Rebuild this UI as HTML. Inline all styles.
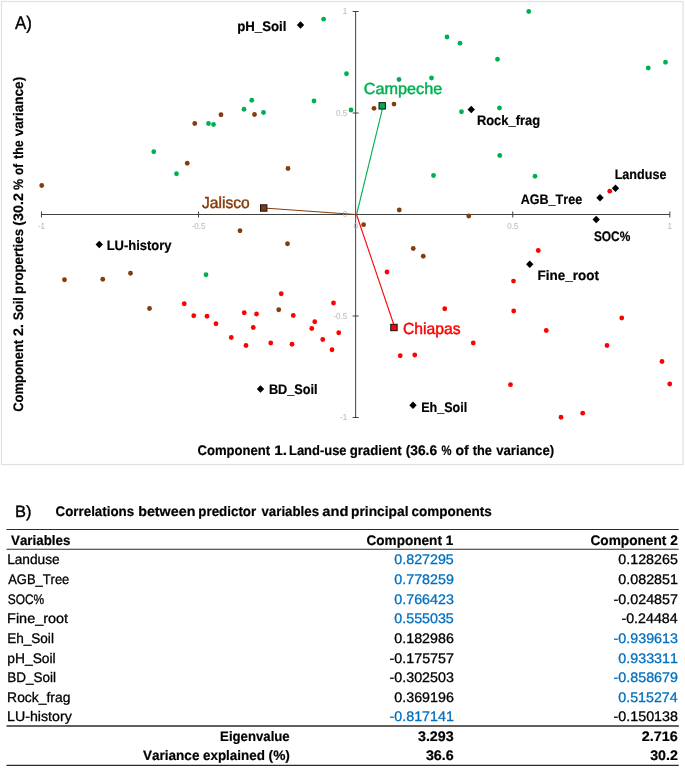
<!DOCTYPE html>
<html><head><meta charset="utf-8"><title>PCA biplot</title>
<style>
html,body{margin:0;padding:0;background:#fff}
svg{display:block;will-change:transform;font-family:"Liberation Sans",sans-serif;font-kerning:none;text-rendering:geometricPrecision}
</style></head><body>
<svg width="685" height="768" viewBox="0 0 685 768">
<rect width="685" height="768" fill="#fff"/>
<rect x="1.5" y="1.5" width="681.5" height="463" fill="#fff" stroke="#e0e0e0" stroke-width="1.2"/>
<g stroke="#404040" stroke-width="1" fill="none">
<line x1="41.45" y1="214.50" x2="669.85" y2="214.50"/>
<line x1="355.65" y1="11.50" x2="355.65" y2="417.50"/>
<line x1="41.45" y1="211.50" x2="41.45" y2="217.50"/>
<line x1="352.65" y1="417.50" x2="358.65" y2="417.50"/>
<line x1="198.55" y1="211.50" x2="198.55" y2="217.50"/>
<line x1="352.65" y1="316.00" x2="358.65" y2="316.00"/>
<line x1="512.75" y1="211.50" x2="512.75" y2="217.50"/>
<line x1="352.65" y1="113.00" x2="358.65" y2="113.00"/>
<line x1="669.85" y1="211.50" x2="669.85" y2="217.50"/>
<line x1="352.65" y1="11.50" x2="358.65" y2="11.50"/>
</g>
<text transform="translate(37.90 228.80) scale(0.9330 1)" font-size="8.60" stroke-width="0.10" stroke="#bfbfbf" fill="#bfbfbf">-1</text>
<text transform="translate(191.63 228.80) scale(0.9330 1)" font-size="8.60" stroke-width="0.10" stroke="#bfbfbf" fill="#bfbfbf">-0.5</text>
<text transform="translate(353.42 228.80) scale(0.9330 1)" font-size="8.60" stroke-width="0.10" stroke="#bfbfbf" fill="#bfbfbf">0</text>
<text transform="translate(507.18 228.80) scale(0.9330 1)" font-size="8.60" stroke-width="0.10" stroke="#bfbfbf" fill="#bfbfbf">0.5</text>
<text transform="translate(667.51 228.80) scale(0.9330 1)" font-size="8.60" stroke-width="0.10" stroke="#bfbfbf" fill="#bfbfbf">1</text>
<text transform="translate(342.83 14.40) scale(0.9330 1)" font-size="8.60" stroke-width="0.10" stroke="#bfbfbf" fill="#bfbfbf">1</text>
<text transform="translate(336.08 115.90) scale(0.9330 1)" font-size="8.60" stroke-width="0.10" stroke="#bfbfbf" fill="#bfbfbf">0.5</text>
<text transform="translate(342.75 217.40) scale(0.9330 1)" font-size="8.60" stroke-width="0.10" stroke="#bfbfbf" fill="#bfbfbf">0</text>
<text transform="translate(333.41 318.90) scale(0.9330 1)" font-size="8.60" stroke-width="0.10" stroke="#bfbfbf" fill="#bfbfbf">-0.5</text>
<text transform="translate(340.16 420.40) scale(0.9330 1)" font-size="8.60" stroke-width="0.10" stroke="#bfbfbf" fill="#bfbfbf">-1</text>
<line x1="356.60" y1="214.50" x2="383.15" y2="105.85" stroke="#00b050" stroke-width="1.1"/>
<line x1="355.65" y1="214.50" x2="263.70" y2="208.00" stroke="#843c0c" stroke-width="1.1"/>
<line x1="356.50" y1="214.50" x2="394.80" y2="327.50" stroke="#ff0000" stroke-width="1.1"/>
<g fill="#00b050"><circle cx="153.75" cy="151.75" r="2.40"/><circle cx="323.60" cy="19.20" r="2.40"/><circle cx="251.75" cy="100.25" r="2.40"/><circle cx="314.00" cy="101.00" r="2.40"/><circle cx="244.00" cy="109.25" r="2.40"/><circle cx="263.50" cy="112.50" r="2.40"/><circle cx="208.50" cy="123.50" r="2.40"/><circle cx="213.50" cy="124.50" r="2.40"/><circle cx="176.50" cy="173.75" r="2.40"/><circle cx="447.00" cy="37.00" r="2.40"/><circle cx="460.00" cy="43.25" r="2.40"/><circle cx="497.50" cy="59.25" r="2.40"/><circle cx="346.50" cy="73.75" r="2.40"/><circle cx="399.00" cy="79.50" r="2.40"/><circle cx="431.50" cy="78.00" r="2.40"/><circle cx="351.00" cy="110.00" r="2.40"/><circle cx="461.50" cy="111.75" r="2.40"/><circle cx="499.50" cy="108.00" r="2.40"/><circle cx="499.75" cy="155.50" r="2.40"/><circle cx="433.50" cy="175.50" r="2.40"/><circle cx="528.75" cy="11.50" r="2.40"/><circle cx="648.25" cy="68.00" r="2.40"/><circle cx="665.50" cy="62.25" r="2.40"/><circle cx="535.00" cy="176.25" r="2.40"/><circle cx="206.00" cy="274.75" r="2.40"/></g>
<g fill="#843c0c"><circle cx="41.75" cy="185.50" r="2.40"/><circle cx="254.50" cy="114.50" r="2.40"/><circle cx="221.00" cy="114.75" r="2.40"/><circle cx="194.75" cy="123.50" r="2.40"/><circle cx="187.25" cy="163.25" r="2.40"/><circle cx="288.00" cy="168.50" r="2.40"/><circle cx="374.00" cy="108.30" r="2.40"/><circle cx="394.00" cy="104.10" r="2.40"/><circle cx="64.50" cy="279.75" r="2.40"/><circle cx="102.75" cy="279.25" r="2.40"/><circle cx="130.50" cy="273.25" r="2.40"/><circle cx="149.50" cy="308.50" r="2.40"/><circle cx="240.00" cy="230.75" r="2.40"/><circle cx="287.50" cy="243.75" r="2.40"/><circle cx="278.75" cy="309.75" r="2.40"/><circle cx="399.25" cy="210.00" r="2.40"/><circle cx="468.75" cy="216.00" r="2.40"/><circle cx="363.60" cy="224.70" r="2.40"/><circle cx="413.25" cy="248.50" r="2.40"/><circle cx="423.25" cy="256.25" r="2.40"/></g>
<g fill="#ff0000"><circle cx="184.25" cy="303.75" r="2.40"/><circle cx="193.75" cy="315.75" r="2.40"/><circle cx="207.00" cy="316.25" r="2.40"/><circle cx="216.00" cy="323.75" r="2.40"/><circle cx="231.25" cy="337.50" r="2.40"/><circle cx="244.25" cy="312.75" r="2.40"/><circle cx="256.50" cy="314.00" r="2.40"/><circle cx="253.25" cy="327.50" r="2.40"/><circle cx="246.00" cy="345.50" r="2.40"/><circle cx="270.75" cy="343.00" r="2.40"/><circle cx="281.25" cy="293.75" r="2.40"/><circle cx="293.25" cy="315.50" r="2.40"/><circle cx="292.00" cy="344.25" r="2.40"/><circle cx="314.75" cy="321.75" r="2.40"/><circle cx="311.75" cy="328.50" r="2.40"/><circle cx="322.75" cy="339.50" r="2.40"/><circle cx="332.00" cy="349.75" r="2.40"/><circle cx="333.50" cy="303.00" r="2.40"/><circle cx="338.75" cy="332.75" r="2.40"/><circle cx="387.00" cy="272.00" r="2.40"/><circle cx="444.75" cy="308.75" r="2.40"/><circle cx="473.25" cy="343.00" r="2.40"/><circle cx="400.25" cy="355.75" r="2.40"/><circle cx="414.75" cy="355.00" r="2.40"/><circle cx="513.50" cy="281.10" r="2.40"/><circle cx="513.70" cy="311.00" r="2.40"/><circle cx="510.50" cy="384.70" r="2.40"/><circle cx="538.25" cy="250.50" r="2.40"/><circle cx="546.25" cy="330.50" r="2.40"/><circle cx="621.75" cy="318.00" r="2.40"/><circle cx="607.00" cy="345.50" r="2.40"/><circle cx="662.00" cy="361.50" r="2.40"/><circle cx="669.75" cy="384.00" r="2.40"/><circle cx="609.80" cy="191.20" r="2.40"/><circle cx="561.00" cy="417.25" r="2.40"/><circle cx="582.70" cy="413.20" r="2.40"/></g>
<rect x="379.00" y="102.65" width="6.4" height="6.4" fill="#00b050" stroke="#111" stroke-width="1"/>
<rect x="260.50" y="204.80" width="6.4" height="6.4" fill="#843c0c" stroke="#111" stroke-width="1"/>
<rect x="390.75" y="324.30" width="6.4" height="6.4" fill="#ff0000" stroke="#111" stroke-width="1"/>
<g fill="#000"><rect x="297.88" y="22.38" width="5.23" height="5.23" transform="rotate(45 300.50 25.00)"/><rect x="468.63" y="106.88" width="5.23" height="5.23" transform="rotate(45 471.25 109.50)"/><rect x="612.88" y="185.68" width="5.23" height="5.23" transform="rotate(45 615.50 188.30)"/><rect x="597.38" y="195.18" width="5.23" height="5.23" transform="rotate(45 600.00 197.80)"/><rect x="593.58" y="216.88" width="5.23" height="5.23" transform="rotate(45 596.20 219.50)"/><rect x="527.13" y="261.63" width="5.23" height="5.23" transform="rotate(45 529.75 264.25)"/><rect x="96.63" y="241.88" width="5.23" height="5.23" transform="rotate(45 99.25 244.50)"/><rect x="257.88" y="386.38" width="5.23" height="5.23" transform="rotate(45 260.50 389.00)"/><rect x="410.38" y="402.63" width="5.23" height="5.23" transform="rotate(45 413.00 405.25)"/></g>
<text transform="translate(237.13 31.25) scale(0.9599 1)" font-size="13.80" font-weight="700" stroke-width="0.20" stroke="#000" fill="#000">pH_Soil</text>
<text transform="translate(476.89 125.00) scale(0.9369 1)" font-size="13.80" font-weight="700" stroke-width="0.20" stroke="#000" fill="#000">Rock_frag</text>
<text transform="translate(614.66 179.25) scale(0.9124 1)" font-size="13.80" font-weight="700" stroke-width="0.20" stroke="#000" fill="#000">Landuse</text>
<text transform="translate(520.69 203.75) scale(0.9111 1)" font-size="13.80" font-weight="700" stroke-width="0.20" stroke="#000" fill="#000">AGB_Tree</text>
<text transform="translate(593.91 240.75) scale(0.8632 1)" font-size="13.80" font-weight="700" stroke-width="0.20" stroke="#000" fill="#000">SOC%</text>
<text transform="translate(537.60 279.75) scale(0.9753 1)" font-size="13.80" font-weight="700" stroke-width="0.20" stroke="#000" fill="#000">Fine_root</text>
<text transform="translate(106.63 250.00) scale(0.9411 1)" font-size="13.80" font-weight="700" stroke-width="0.20" stroke="#000" fill="#000">LU-history</text>
<text transform="translate(268.90 394.00) scale(0.9214 1)" font-size="13.80" font-weight="700" stroke-width="0.20" stroke="#000" fill="#000">BD_Soil</text>
<text transform="translate(421.16 411.50) scale(0.9084 1)" font-size="13.80" font-weight="700" stroke-width="0.20" stroke="#000" fill="#000">Eh_Soil</text>
<text transform="translate(363.68 93.75) scale(1.0151 1)" font-size="16.00" stroke-width="0.45" stroke="#00b050" fill="#00b050">Campeche</text>
<text transform="translate(202.01 207.50) scale(0.9743 1)" font-size="16.00" stroke-width="0.45" stroke="#843c0c" fill="#843c0c">Jalisco</text>
<text transform="translate(402.95 334.00) scale(0.9815 1)" font-size="16.00" stroke-width="0.45" stroke="#ff0000" fill="#ff0000">Chiapas</text>
<text transform="translate(14.97 29.10) scale(0.9174 1)" font-size="18.40" stroke-width="0.40" stroke="#000" fill="#000">A)</text>
<text transform="translate(14.95 517.00) scale(1.0044 1)" font-size="16.40" stroke-width="0.40" stroke="#000" fill="#000">B)</text>
<text transform="translate(197.46 455.00) scale(0.9470 1)" font-size="13.80" font-weight="700" stroke-width="0.20" stroke="#000" fill="#000">Component</text>
<text transform="translate(274.34 455.00) scale(1.1043 1)" font-size="13.80" font-weight="700" stroke-width="0.20" stroke="#000" fill="#000">1.</text>
<text transform="translate(289.03 455.00) scale(0.9375 1)" font-size="13.80" font-weight="700" stroke-width="0.20" stroke="#000" fill="#000">Land-use</text>
<text transform="translate(349.66 455.00) scale(0.9571 1)" font-size="13.80" font-weight="700" stroke-width="0.20" stroke="#000" fill="#000">gradient</text>
<text transform="translate(405.71 455.00) scale(0.9977 1)" font-size="13.80" font-weight="700" stroke-width="0.20" stroke="#000" fill="#000">(36.6</text>
<text transform="translate(441.47 455.00) scale(0.8173 1)" font-size="13.80" font-weight="700" stroke-width="0.20" stroke="#000" fill="#000">%</text>
<text transform="translate(455.45 455.00) scale(1.0189 1)" font-size="13.80" font-weight="700" stroke-width="0.20" stroke="#000" fill="#000">of</text>
<text transform="translate(472.69 455.00) scale(0.9247 1)" font-size="13.80" font-weight="700" stroke-width="0.20" stroke="#000" fill="#000">the</text>
<text transform="translate(496.15 455.00) scale(0.9572 1)" font-size="13.80" font-weight="700" stroke-width="0.20" stroke="#000" fill="#000">variance)</text>
<text transform="translate(22.70 411.78) rotate(-90) scale(0.9385 1)" font-size="13.80" font-weight="700" stroke="#000" stroke-width="0.2" fill="#000">Component</text>
<text transform="translate(22.70 336.00) rotate(-90) scale(1.0416 1)" font-size="13.80" font-weight="700" stroke="#000" stroke-width="0.2" fill="#000">2.</text>
<text transform="translate(22.70 320.37) rotate(-90) scale(0.9194 1)" font-size="13.80" font-weight="700" stroke="#000" stroke-width="0.2" fill="#000">Soil</text>
<text transform="translate(22.70 293.88) rotate(-90) scale(0.9620 1)" font-size="13.80" font-weight="700" stroke="#000" stroke-width="0.2" fill="#000">properties</text>
<text transform="translate(22.70 225.71) rotate(-90) scale(1.0343 1)" font-size="13.80" font-weight="700" stroke="#000" stroke-width="0.2" fill="#000">(30.2</text>
<text transform="translate(22.70 189.80) rotate(-90) scale(0.8865 1)" font-size="13.80" font-weight="700" stroke="#000" stroke-width="0.2" fill="#000">%</text>
<text transform="translate(22.70 174.96) rotate(-90) scale(0.8591 1)" font-size="13.80" font-weight="700" stroke="#000" stroke-width="0.2" fill="#000">of</text>
<text transform="translate(22.70 158.90) rotate(-90) scale(0.8973 1)" font-size="13.80" font-weight="700" stroke="#000" stroke-width="0.2" fill="#000">the</text>
<text transform="translate(22.70 136.30) rotate(-90) scale(0.9814 1)" font-size="13.80" font-weight="700" stroke="#000" stroke-width="0.2" fill="#000">variance)</text>
<text transform="translate(55.55 516.00) scale(0.9669 1)" font-size="13.80" font-weight="700" stroke-width="0.20" stroke="#000" fill="#000">Correlations</text>
<text transform="translate(138.16 516.00) scale(1.0365 1)" font-size="13.80" font-weight="700" stroke-width="0.20" stroke="#000" fill="#000">between</text>
<text transform="translate(198.32 516.00) scale(0.9678 1)" font-size="13.80" font-weight="700" stroke-width="0.20" stroke="#000" fill="#000">predictor</text>
<text transform="translate(261.45 516.00) scale(0.9625 1)" font-size="13.80" font-weight="700" stroke-width="0.20" stroke="#000" fill="#000">variables</text>
<text transform="translate(322.32 516.00) scale(1.0659 1)" font-size="13.80" font-weight="700" stroke-width="0.20" stroke="#000" fill="#000">and</text>
<text transform="translate(351.09 516.00) scale(0.9978 1)" font-size="13.80" font-weight="700" stroke-width="0.20" stroke="#000" fill="#000">principal</text>
<text transform="translate(411.47 516.00) scale(0.9792 1)" font-size="13.80" font-weight="700" stroke-width="0.20" stroke="#000" fill="#000">components</text>
<line x1="6.5" y1="529.55" x2="678.75" y2="529.55" stroke="#2b2b2b" stroke-width="1.1"/>
<line x1="6.5" y1="549.30" x2="678.75" y2="549.30" stroke="#2b2b2b" stroke-width="1.1"/>
<line x1="6.5" y1="726.00" x2="678.75" y2="726.00" stroke="#2b2b2b" stroke-width="1.5"/>
<line x1="6.5" y1="765.40" x2="678.75" y2="765.40" stroke="#2b2b2b" stroke-width="1.1"/>
<text transform="translate(11.01 544.70) scale(0.9669 1)" font-size="13.80" font-weight="700" stroke-width="0.20" stroke="#000" fill="#000">Variables</text>
<text transform="translate(366.44 544.70) scale(0.9849 1)" font-size="13.80" font-weight="700" stroke-width="0.20" stroke="#000" fill="#000">Component 1</text>
<text transform="translate(590.44 544.70) scale(0.9909 1)" font-size="13.80" font-weight="700" stroke-width="0.20" stroke="#000" fill="#000">Component 2</text>
<text transform="translate(7.13 564.40) scale(0.9931 1)" font-size="13.80" stroke-width="0.30" stroke="#000" fill="#000">Landuse</text>
<text transform="translate(394.30 564.40) scale(1.0337 1)" font-size="13.80" stroke-width="0.30" stroke="#0070c0" fill="#0070c0">0.827295</text>
<text transform="translate(618.35 564.40) scale(1.0337 1)" font-size="13.80" stroke-width="0.30" stroke="#000" fill="#000">0.128265</text>
<text transform="translate(8.22 584.03) scale(0.9372 1)" font-size="13.80" stroke-width="0.30" stroke="#000" fill="#000">AGB_Tree</text>
<text transform="translate(394.30 584.03) scale(1.0350 1)" font-size="13.80" stroke-width="0.30" stroke="#0070c0" fill="#0070c0">0.778259</text>
<text transform="translate(618.35 584.03) scale(1.0354 1)" font-size="13.80" stroke-width="0.30" stroke="#000" fill="#000">0.082851</text>
<text transform="translate(7.71 603.66) scale(0.8647 1)" font-size="13.80" stroke-width="0.30" stroke="#000" fill="#000">SOC%</text>
<text transform="translate(394.30 603.66) scale(1.0342 1)" font-size="13.80" stroke-width="0.30" stroke="#0070c0" fill="#0070c0">0.766423</text>
<text transform="translate(613.61 603.66) scale(1.0356 1)" font-size="13.80" stroke-width="0.30" stroke="#000" fill="#000">-0.024857</text>
<text transform="translate(7.06 623.29) scale(1.0470 1)" font-size="13.80" stroke-width="0.30" stroke="#000" fill="#000">Fine_root</text>
<text transform="translate(394.30 623.29) scale(1.0337 1)" font-size="13.80" stroke-width="0.30" stroke="#0070c0" fill="#0070c0">0.555035</text>
<text transform="translate(621.42 623.29) scale(1.0325 1)" font-size="13.80" stroke-width="0.30" stroke="#000" fill="#000">-0.24484</text>
<text transform="translate(7.14 642.92) scale(0.9833 1)" font-size="13.80" stroke-width="0.30" stroke="#000" fill="#000">Eh_Soil</text>
<text transform="translate(394.30 642.92) scale(1.0342 1)" font-size="13.80" stroke-width="0.30" stroke="#000" fill="#000">0.182986</text>
<text transform="translate(613.61 642.92) scale(1.0341 1)" font-size="13.80" stroke-width="0.30" stroke="#0070c0" fill="#0070c0">-0.939613</text>
<text transform="translate(7.36 662.55) scale(0.9997 1)" font-size="13.80" stroke-width="0.30" stroke="#000" fill="#000">pH_Soil</text>
<text transform="translate(389.56 662.55) scale(1.0356 1)" font-size="13.80" stroke-width="0.30" stroke="#000" fill="#000">-0.175757</text>
<text transform="translate(618.35 662.55) scale(1.0354 1)" font-size="13.80" stroke-width="0.30" stroke="#0070c0" fill="#0070c0">0.933311</text>
<text transform="translate(7.14 682.18) scale(0.9780 1)" font-size="13.80" stroke-width="0.30" stroke="#000" fill="#000">BD_Soil</text>
<text transform="translate(389.56 682.18) scale(1.0341 1)" font-size="13.80" stroke-width="0.30" stroke="#000" fill="#000">-0.302503</text>
<text transform="translate(613.61 682.18) scale(1.0349 1)" font-size="13.80" stroke-width="0.30" stroke="#0070c0" fill="#0070c0">-0.858679</text>
<text transform="translate(7.11 701.81) scale(1.0062 1)" font-size="13.80" stroke-width="0.30" stroke="#000" fill="#000">Rock_frag</text>
<text transform="translate(394.30 701.81) scale(1.0342 1)" font-size="13.80" stroke-width="0.30" stroke="#000" fill="#000">0.369196</text>
<text transform="translate(618.35 701.81) scale(1.0305 1)" font-size="13.80" stroke-width="0.30" stroke="#0070c0" fill="#0070c0">0.515274</text>
<text transform="translate(7.09 721.44) scale(1.0288 1)" font-size="13.80" stroke-width="0.30" stroke="#000" fill="#000">LU-history</text>
<text transform="translate(389.56 721.44) scale(1.0352 1)" font-size="13.80" stroke-width="0.30" stroke="#0070c0" fill="#0070c0">-0.817141</text>
<text transform="translate(613.61 721.44) scale(1.0340 1)" font-size="13.80" stroke-width="0.30" stroke="#000" fill="#000">-0.150138</text>
<text transform="translate(220.12 741.00) scale(0.9550 1)" font-size="13.80" font-weight="700" stroke-width="0.20" stroke="#000" fill="#000">Eigenvalue</text>
<text transform="translate(417.92 741.00) scale(1.0380 1)" font-size="13.80" font-weight="700" stroke-width="0.20" stroke="#000" fill="#000">3.293</text>
<text transform="translate(641.75 741.00) scale(1.0430 1)" font-size="13.80" font-weight="700" stroke-width="0.20" stroke="#000" fill="#000">2.716</text>
<text transform="translate(142.91 760.40) scale(0.9829 1)" font-size="13.80" font-weight="700" stroke-width="0.20" stroke="#000" fill="#000">Variance</text>
<text transform="translate(202.98 760.40) scale(0.9725 1)" font-size="13.80" font-weight="700" stroke-width="0.20" stroke="#000" fill="#000">explained</text>
<text transform="translate(268.57 760.40) scale(0.9957 1)" font-size="13.80" font-weight="700" stroke-width="0.20" stroke="#000" fill="#000">(%)</text>
<text transform="translate(425.92 760.40) scale(1.0367 1)" font-size="13.80" font-weight="700" stroke-width="0.20" stroke="#000" fill="#000">36.6</text>
<text transform="translate(650.17 760.40) scale(1.0293 1)" font-size="13.80" font-weight="700" stroke-width="0.20" stroke="#000" fill="#000">30.2</text>
</svg>
</body></html>
